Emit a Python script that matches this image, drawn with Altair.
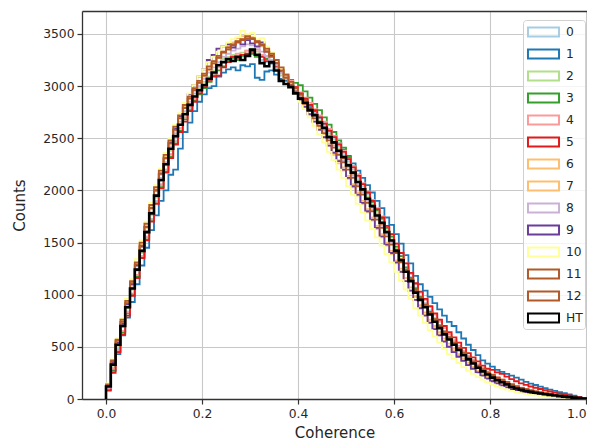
import altair as alt
import pandas as pd

# ---- data (counts per 0.01-wide coherence bin, 0.00 .. 0.99) ----
labels = ["0", "1", "2", "3", "4", "5", "6", "7", "8", "9", "10", "11", "12", "HT"]
colors = ["#a6cee3", "#1f78b4", "#b2df8a", "#33a02c", "#fb9a99", "#e31a1c",
          "#fdbf6f", "#fdbf6f", "#cab2d6", "#6a3d9a", "#ffff99", "#b15928",
          "#b15928", "#000000"]

s0 = [100, 300, 480, 650, 840, 1010, 1190, 1370, 1560, 1730,
      1900, 2060, 2200, 2350, 2480, 2600, 2700, 2790, 2870, 2940,
      3000, 3050, 3110, 3180, 3230, 3240, 3260, 3250, 3280, 3300,
      3320, 3290, 3250, 3230, 3210, 3170, 3100, 3060, 3010, 2960,
      2920, 2870, 2810, 2750, 2690, 2620, 2550, 2490, 2420, 2350,
      2280, 2200, 2120, 2040, 1960, 1880, 1800, 1720, 1640, 1550,
      1460, 1370, 1270, 1170, 1070, 990, 920, 850, 780, 710,
      650, 600, 545, 495, 445, 400, 360, 320, 285, 250,
      220, 195, 172, 150, 128, 110, 96, 84, 74, 65,
      57, 50, 43, 37, 31, 25, 20, 14, 9, 4]
s1 = [90, 270, 430, 610, 780, 930, 1100, 1280, 1450, 1620,
      1760, 1900, 2000, 2150, 2200, 2400, 2560, 2650, 2760, 2850,
      2920, 2980, 3000, 3090, 3130, 3160, 3180, 3150, 3200, 3190,
      3210, 3080, 3060, 3140, 3150, 3110, 3070, 3050, 3000, 2960,
      2910, 2870, 2810, 2760, 2700, 2640, 2580, 2520, 2450, 2390,
      2330, 2260, 2190, 2120, 2050, 1980, 1900, 1830, 1740, 1670,
      1580, 1490, 1380, 1300, 1180, 1100, 1040, 980, 920, 860,
      800, 740, 700, 640, 580, 520, 470, 420, 370, 340,
      310, 280, 260, 240, 225, 205, 185, 165, 148, 134,
      118, 104, 90, 78, 66, 56, 44, 32, 20, 9]
s2 = [110, 320, 510, 690, 870, 1050, 1230, 1400, 1590, 1760,
      1930, 2090, 2240, 2380, 2510, 2640, 2740, 2830, 2910, 2980,
      3040, 3090, 3150, 3210, 3260, 3280, 3300, 3290, 3320, 3340,
      3360, 3330, 3300, 3260, 3230, 3180, 3120, 3070, 3010, 2950,
      2900, 2850, 2790, 2730, 2670, 2600, 2530, 2470, 2400, 2330,
      2260, 2180, 2100, 2020, 1940, 1860, 1780, 1700, 1620, 1530,
      1440, 1340, 1240, 1140, 1040, 960, 890, 820, 750, 690,
      630, 575, 520, 470, 425, 385, 345, 305, 270, 240,
      210, 185, 162, 142, 120, 104, 90, 79, 70, 61,
      54, 47, 41, 35, 29, 24, 19, 14, 9, 4]
s3 = [90, 280, 460, 640, 820, 1000, 1170, 1360, 1530, 1710,
      1880, 2030, 2180, 2320, 2450, 2570, 2680, 2770, 2860, 2920,
      2980, 3040, 3100, 3150, 3190, 3240, 3270, 3250, 3290, 3300,
      3310, 3280, 3300, 3260, 3230, 3200, 3150, 3110, 3060, 3030,
      3010, 2950, 2890, 2830, 2770, 2700, 2630, 2560, 2480, 2410,
      2320, 2230, 2150, 2060, 1980, 1890, 1810, 1730, 1640, 1560,
      1460, 1370, 1260, 1160, 1060, 980, 900, 830, 760, 700,
      640, 585, 530, 480, 430, 385, 345, 305, 270, 240,
      210, 185, 164, 144, 122, 106, 92, 80, 70, 62,
      54, 47, 41, 35, 29, 24, 19, 14, 9, 4]
s4 = [100, 290, 470, 650, 830, 1010, 1190, 1370, 1550, 1720,
      1890, 2050, 2200, 2340, 2470, 2590, 2700, 2800, 2880, 2950,
      3010, 3060, 3120, 3180, 3230, 3260, 3290, 3310, 3300, 3340,
      3330, 3350, 3300, 3280, 3250, 3200, 3140, 3090, 3050, 2990,
      2940, 2890, 2840, 2780, 2720, 2660, 2590, 2520, 2450, 2380,
      2300, 2230, 2150, 2070, 1990, 1910, 1830, 1750, 1660, 1580,
      1490, 1400, 1300, 1200, 1100, 1020, 950, 880, 810, 740,
      680, 620, 565, 510, 460, 415, 375, 335, 300, 265,
      235, 210, 185, 165, 145, 125, 110, 96, 84, 74,
      65, 57, 49, 42, 35, 29, 23, 17, 11, 5]
s5 = [80, 250, 450, 620, 800, 990, 1160, 1350, 1520, 1700,
      1870, 2020, 2170, 2310, 2440, 2560, 2660, 2760, 2850, 2930,
      2990, 3060, 3090, 3100, 3180, 3230, 3280, 3270, 3300, 3310,
      3330, 3300, 3280, 3240, 3220, 3190, 3140, 3090, 3040, 2990,
      2930, 2880, 2820, 2770, 2700, 2640, 2570, 2510, 2440, 2370,
      2300, 2220, 2140, 2060, 1980, 1900, 1820, 1740, 1660, 1580,
      1490, 1400, 1300, 1210, 1110, 1030, 960, 890, 820, 760,
      700, 640, 590, 540, 490, 440, 400, 360, 320, 290,
      280, 255, 240, 215, 190, 170, 150, 135, 120, 108,
      96, 84, 72, 62, 52, 43, 34, 26, 17, 8]
s6 = [140, 360, 560, 740, 930, 1110, 1300, 1480, 1660, 1840,
      2010, 2170, 2320, 2460, 2590, 2700, 2800, 2890, 2970, 3050,
      3110, 3180, 3240, 3290, 3330, 3380, 3420, 3460, 3480, 3450,
      3470, 3420, 3400, 3340, 3300, 3240, 3150, 3080, 3010, 2940,
      2870, 2810, 2730, 2660, 2590, 2510, 2430, 2340, 2260, 2190,
      2110, 2030, 1950, 1870, 1790, 1710, 1630, 1550, 1470, 1390,
      1300, 1220, 1130, 1040, 950, 880, 810, 740, 680, 620,
      560, 510, 460, 415, 375, 335, 300, 265, 235, 205,
      180, 158, 138, 120, 102, 88, 76, 66, 58, 50,
      44, 38, 33, 28, 23, 19, 15, 11, 7, 3]
s7 = [130, 350, 550, 730, 910, 1090, 1280, 1460, 1640, 1820,
      1990, 2150, 2300, 2440, 2570, 2690, 2790, 2880, 2960, 3030,
      3090, 3150, 3210, 3270, 3320, 3360, 3400, 3430, 3450, 3500,
      3460, 3440, 3380, 3350, 3290, 3230, 3160, 3090, 3030, 2960,
      2900, 2830, 2760, 2690, 2610, 2540, 2450, 2370, 2290, 2220,
      2140, 2060, 1980, 1900, 1820, 1740, 1660, 1580, 1500, 1420,
      1330, 1250, 1160, 1070, 980, 900, 830, 760, 700, 640,
      580, 530, 480, 430, 390, 350, 310, 275, 245, 215,
      188, 165, 145, 126, 108, 93, 80, 70, 61, 53,
      46, 40, 35, 30, 25, 20, 16, 12, 8, 3]
s8 = [110, 330, 530, 710, 890, 1070, 1250, 1430, 1610, 1790,
      1960, 2120, 2270, 2420, 2550, 2660, 2760, 2850, 2930, 3000,
      3070, 3130, 3180, 3230, 3280, 3310, 3340, 3360, 3380, 3400,
      3390, 3370, 3330, 3290, 3250, 3200, 3130, 3080, 3020, 2960,
      2900, 2840, 2780, 2710, 2640, 2570, 2500, 2430, 2360, 2290,
      2220, 2140, 2060, 1980, 1900, 1820, 1740, 1660, 1580, 1500,
      1410, 1320, 1220, 1130, 1030, 955, 885, 815, 745, 685,
      625, 570, 520, 470, 425, 380, 340, 300, 265, 235,
      205, 180, 160, 140, 118, 102, 89, 78, 69, 61,
      54, 47, 41, 35, 29, 24, 19, 14, 9, 4]
s9 = [130, 350, 540, 720, 910, 1100, 1280, 1460, 1650, 1830,
      2000, 2160, 2310, 2460, 2590, 2710, 2820, 2920, 3010, 3090,
      3160, 3250, 3300, 3360, 3380, 3400, 3370, 3420, 3400, 3440,
      3410, 3380, 3420, 3330, 3290, 3220, 3150, 3080, 3010, 2940,
      2870, 2800, 2730, 2660, 2580, 2510, 2430, 2360, 2280, 2200,
      2120, 2040, 1960, 1880, 1800, 1720, 1640, 1560, 1480, 1400,
      1310, 1220, 1130, 1040, 950, 870, 800, 730, 670, 610,
      550, 500, 450, 405, 365, 325, 290, 255, 225, 195,
      170, 150, 130, 112, 95, 82, 71, 62, 54, 47,
      41, 35, 30, 26, 21, 17, 13, 10, 6, 3]
s10 = [150, 380, 580, 770, 960, 1150, 1340, 1520, 1700, 1880,
       2050, 2210, 2360, 2500, 2630, 2740, 2840, 2930, 3010, 3090,
       3160, 3230, 3280, 3330, 3380, 3420, 3450, 3470, 3530, 3500,
       3510, 3450, 3460, 3380, 3320, 3240, 3160, 3080, 3000, 2930,
       2850, 2780, 2700, 2620, 2540, 2460, 2370, 2290, 2200, 2120,
       2040, 1960, 1870, 1790, 1710, 1630, 1550, 1470, 1390, 1310,
       1220, 1140, 1050, 960, 870, 800, 730, 660, 600, 540,
       480, 430, 385, 345, 305, 270, 240, 210, 185, 160,
       140, 122, 106, 92, 78, 67, 57, 49, 42, 36,
       31, 27, 23, 19, 16, 13, 10, 7, 5, 2]
s11 = [130, 360, 560, 740, 920, 1110, 1290, 1470, 1650, 1830,
       2000, 2160, 2310, 2450, 2580, 2690, 2790, 2880, 2960, 3030,
       3100, 3160, 3220, 3270, 3320, 3350, 3390, 3420, 3450, 3480,
       3460, 3430, 3400, 3360, 3310, 3250, 3180, 3110, 3040, 2980,
       2920, 2860, 2790, 2730, 2660, 2590, 2520, 2450, 2380, 2310,
       2240, 2160, 2080, 2000, 1920, 1840, 1760, 1680, 1600, 1520,
       1430, 1340, 1240, 1150, 1050, 975, 905, 835, 765, 705,
       645, 590, 540, 490, 440, 395, 355, 315, 280, 250,
       225, 200, 180, 160, 136, 118, 104, 91, 80, 70,
       62, 54, 47, 40, 33, 27, 21, 15, 10, 5]
s12 = [140, 370, 570, 760, 940, 1130, 1310, 1500, 1680, 1860,
       2030, 2190, 2340, 2480, 2610, 2720, 2820, 2900, 2980, 3050,
       3120, 3190, 3240, 3290, 3330, 3370, 3400, 3430, 3440, 3460,
       3450, 3420, 3390, 3330, 3280, 3220, 3150, 3080, 3010, 2950,
       2890, 2830, 2760, 2690, 2620, 2550, 2480, 2410, 2340, 2270,
       2200, 2120, 2040, 1960, 1880, 1800, 1720, 1640, 1560, 1480,
       1400, 1310, 1220, 1130, 1040, 965, 895, 825, 760, 700,
       645, 590, 540, 490, 445, 400, 360, 320, 285, 255,
       230, 205, 185, 163, 140, 122, 107, 94, 82, 72,
       63, 55, 48, 41, 34, 28, 22, 16, 10, 5]
ht = [120, 330, 520, 700, 880, 1060, 1240, 1420, 1600, 1780,
      1950, 2100, 2250, 2400, 2520, 2630, 2730, 2820, 2900, 2960,
      3010, 3070, 3130, 3200, 3230, 3260, 3240, 3280, 3250, 3290,
      3350, 3300, 3220, 3190, 3230, 3150, 3050, 3020, 2990, 2930,
      2880, 2840, 2770, 2720, 2650, 2600, 2510, 2460, 2380, 2320,
      2240, 2170, 2080, 2010, 1920, 1850, 1760, 1690, 1600, 1520,
      1420, 1330, 1220, 1130, 1020, 950, 880, 810, 740, 680,
      620, 570, 520, 470, 420, 380, 340, 300, 265, 235,
      205, 180, 160, 140, 115, 100, 88, 77, 68, 60,
      53, 46, 40, 34, 28, 23, 18, 13, 8, 4]

all_series = [s0, s1, s2, s3, s4, s5, s6, s7, s8, s9, s10, s11, s12, ht]
bin_width = 0.01
x_ticks = [0.0, 0.2, 0.4, 0.6, 0.8, 1.0]
y_ticks = [0, 500, 1000, 1500, 2000, 2500, 3000, 3500]

# ---- step outline table (histtype='step'): up from 0, steps, down to 0 ----
rows = []
for name, vals in zip(labels, all_series):
    n = len(vals)
    pts = [(0.0, 0)] + [(round(i * bin_width, 4), v) for i, v in enumerate(vals)]
    pts += [(round(n * bin_width, 4), vals[-1]), (round(n * bin_width, 4), 0)]
    for k, (xv, yv) in enumerate(pts):
        rows.append({"series": name, "x": xv, "y": yv, "k": k})
df = pd.DataFrame(rows)

FONT = "DejaVu Sans"
TXT = "#262626"

xscale = alt.Scale(domain=[-0.05, 1.002], nice=False, zero=False)
yscale = alt.Scale(domain=[0, 3720], nice=False)
cscale = alt.Scale(domain=labels, range=colors)

legend = alt.Legend(
    title=None, orient="none", legendX=441, legendY=9,
    symbolType="M-0.78,-0.5H2.67V0.5H-0.78Z", symbolSize=324,
    symbolStrokeWidth=2, symbolFillColor="transparent",
    labelFontSize=12.3, labelFont=FONT, labelColor=TXT, labelOffset=21,
    padding=2, rowPadding=3, fillColor="rgba(255,255,255,0.8)",
    strokeColor="#d0d0d0", cornerRadius=3, labelLimit=60,
)

xaxis_bottom = alt.Axis(
    values=x_ticks, format=".1f", title="Coherence", grid=True,
    gridColor="#c8c8c8", gridWidth=1.1, domainColor="#333333", domainWidth=1.3,
    tickColor="#333333", tickWidth=1.2, tickSize=5, labelPadding=3,
    labelFontSize=12.3, labelFont=FONT, labelColor=TXT,
    titleFontSize=15, titleFont=FONT, titleColor=TXT, titleFontWeight="normal",
    titlePadding=6, orient="bottom",
)
xaxis_top = alt.Axis(
    orient="top", labels=False, ticks=False, grid=False, title=None,
    domainColor="#333333", domainWidth=1.3,
)
yaxis = alt.Axis(
    values=y_ticks, format="d", title="Counts", grid=True,
    gridColor="#c8c8c8", gridWidth=1.1, domainColor="#333333", domainWidth=1.3,
    tickColor="#333333", tickWidth=1.2, tickSize=5, labelPadding=3,
    labelFontSize=12.3, labelFont=FONT, labelColor=TXT,
    titleFontSize=15, titleFont=FONT, titleColor=TXT, titleFontWeight="normal",
    titlePadding=15,
)

others = (
    alt.Chart(df[df["series"] != "HT"])
    .mark_line(interpolate="step-after", strokeWidth=1.8, clip=True)
    .encode(
        x=alt.X("x:Q", scale=xscale, axis=xaxis_bottom),
        y=alt.Y("y:Q", scale=yscale, axis=yaxis),
        color=alt.Color("series:N", scale=cscale, legend=legend),
        order=alt.Order("k:Q"),
        detail="series:N",
    )
)
htline = (
    alt.Chart(df[df["series"] == "HT"])
    .mark_line(interpolate="step-after", strokeWidth=2.6, clip=True)
    .encode(
        x=alt.X("x:Q", scale=xscale, axis=xaxis_top),
        y=alt.Y("y:Q", scale=yscale, axis=yaxis),
        color=alt.Color("series:N", scale=cscale, legend=legend),
        order=alt.Order("k:Q"),
    )
)

chart = (
    alt.layer(others, htline)
    .properties(
        width=505, height=388,
        autosize=alt.AutoSizeParams(type="none"),
        padding={"left": 74, "top": 3, "right": 0, "bottom": 49},
        background="white",
    )
    .configure_view(stroke=None)
)

chart.save("out.html", embed_options={"renderer": "svg", "actions": False})
